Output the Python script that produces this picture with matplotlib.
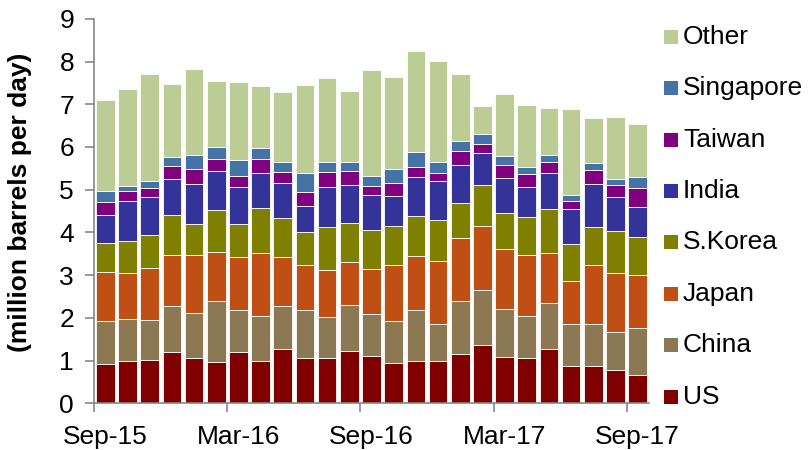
import numpy as np
import matplotlib
matplotlib.use("Agg")
import matplotlib.pyplot as plt
from matplotlib.patches import Rectangle

plt.rcParams['font.family'] = ['Liberation Sans', 'DejaVu Sans']

# million barrels per day, monthly Sep-15 .. Sep-17
months = ['Sep-15', 'Oct-15', 'Nov-15', 'Dec-15', 'Jan-16', 'Feb-16', 'Mar-16',
          'Apr-16', 'May-16', 'Jun-16', 'Jul-16', 'Aug-16', 'Sep-16', 'Oct-16',
          'Nov-16', 'Dec-16', 'Jan-17', 'Feb-17', 'Mar-17', 'Apr-17', 'May-17',
          'Jun-17', 'Jul-17', 'Aug-17', 'Sep-17']
us = [0.92, 0.98, 1.02, 1.19, 1.07, 0.96, 1.21, 1.00, 1.27, 1.05, 1.05, 1.23, 1.11,
      0.95, 1.00, 0.98, 1.16, 1.36, 1.09, 1.05, 1.27, 0.88, 0.87, 0.77, 0.67]
china = [1.00, 0.99, 0.92, 1.09, 1.04, 1.43, 0.98, 1.04, 1.00, 1.14, 0.98, 1.07, 0.98,
         0.97, 1.18, 0.87, 1.23, 1.29, 1.12, 1.00, 1.08, 0.98, 0.99, 0.89, 1.09]
japan = [1.15, 1.08, 1.22, 1.19, 1.36, 1.15, 1.23, 1.47, 1.15, 1.04, 1.10, 1.01, 1.06,
         1.31, 1.27, 1.47, 1.49, 1.49, 1.40, 1.42, 1.17, 1.00, 1.37, 1.39, 1.24]
korea = [0.68, 0.76, 0.79, 0.93, 0.73, 0.98, 0.78, 1.05, 0.91, 0.78, 1.00, 0.90, 0.91,
         0.93, 0.94, 0.98, 0.82, 0.98, 0.85, 0.90, 1.03, 0.88, 0.90, 0.99, 0.90]
india = [0.66, 0.92, 0.87, 0.85, 0.93, 0.91, 0.86, 0.83, 0.83, 0.60, 0.94, 0.90, 0.82,
         0.69, 0.90, 0.91, 0.87, 0.75, 0.81, 0.70, 0.84, 0.81, 1.01, 0.79, 0.69]
taiwan = [0.31, 0.23, 0.21, 0.30, 0.35, 0.28, 0.26, 0.34, 0.25, 0.33, 0.35, 0.33, 0.21,
          0.31, 0.23, 0.19, 0.33, 0.19, 0.32, 0.29, 0.25, 0.18, 0.31, 0.27, 0.45]
singapore = [0.26, 0.12, 0.18, 0.22, 0.33, 0.30, 0.38, 0.25, 0.24, 0.44, 0.24, 0.22, 0.23,
             0.32, 0.36, 0.26, 0.23, 0.25, 0.21, 0.16, 0.18, 0.14, 0.17, 0.14, 0.25]
other = [2.12, 2.28, 2.50, 1.71, 2.02, 1.54, 1.83, 1.46, 1.64, 2.07, 1.96, 1.64, 2.48,
         2.15, 2.36, 2.35, 1.58, 0.64, 1.43, 1.47, 1.10, 2.01, 1.07, 1.46, 1.26]

series = [('US', us, '#800000'),
          ('China', china, '#8C7853'),
          ('Japan', japan, '#C04F15'),
          ('S.Korea', korea, '#808000'),
          ('India', india, '#333399'),
          ('Taiwan', taiwan, '#800080'),
          ('Singapore', singapore, '#4573A7'),
          ('Other', other, '#BBCD95')]

fig = plt.figure(figsize=(8.12, 4.5), dpi=100)
ax = fig.add_axes([0.116, 0.104, 0.683, 0.854])

x = np.arange(len(months))
bottom = np.zeros(len(months))
for name, vals, col in series:
    ax.bar(x, vals, 0.84, bottom=bottom, color=col, edgecolor='white', linewidth=0.6)
    bottom += np.array(vals)

ax.set_xlim(-0.5, len(months) - 0.5)
ax.set_ylim(0, 9)
ax.set_yticks(range(10))
ax.tick_params(axis='y', labelsize=19, length=6.5, color='#888888', width=1.2, pad=8)

# boundary ticks every 6 months, labels centred on the bar
ax.set_xticks(np.arange(0, len(months), 6) - 0.5)
ax.set_xticklabels([])
ax.set_xticks(np.arange(0, len(months), 6), minor=True)
ax.set_xticklabels([months[i] for i in range(0, len(months), 6)], minor=True)
ax.tick_params(axis='x', which='major', length=6.5, color='#888888', width=1.2)
ax.tick_params(axis='x', which='minor', length=0, labelsize=19, pad=16)

for s in ['top', 'right']:
    ax.spines[s].set_visible(False)
for s in ['left', 'bottom']:
    ax.spines[s].set_color('#888888')
    ax.spines[s].set_linewidth(1.2)

ax.set_ylabel('(million barrels per day)', fontsize=19, fontweight='bold')
ax.yaxis.set_label_coords(-0.112, 0.522)

# legend on the right, top = Other ... bottom = US
for i, (name, vals, col) in enumerate(series[::-1]):
    yc = 0.918 - i * 0.1142
    fig.patches.append(Rectangle((0.8177, yc - 0.0155), 0.0172, 0.031,
                                 transform=fig.transFigure, facecolor=col,
                                 edgecolor='none'))
    fig.text(0.841, yc, name, fontsize=19, va='center', ha='left')

fig.savefig('out.png', dpi=100)
